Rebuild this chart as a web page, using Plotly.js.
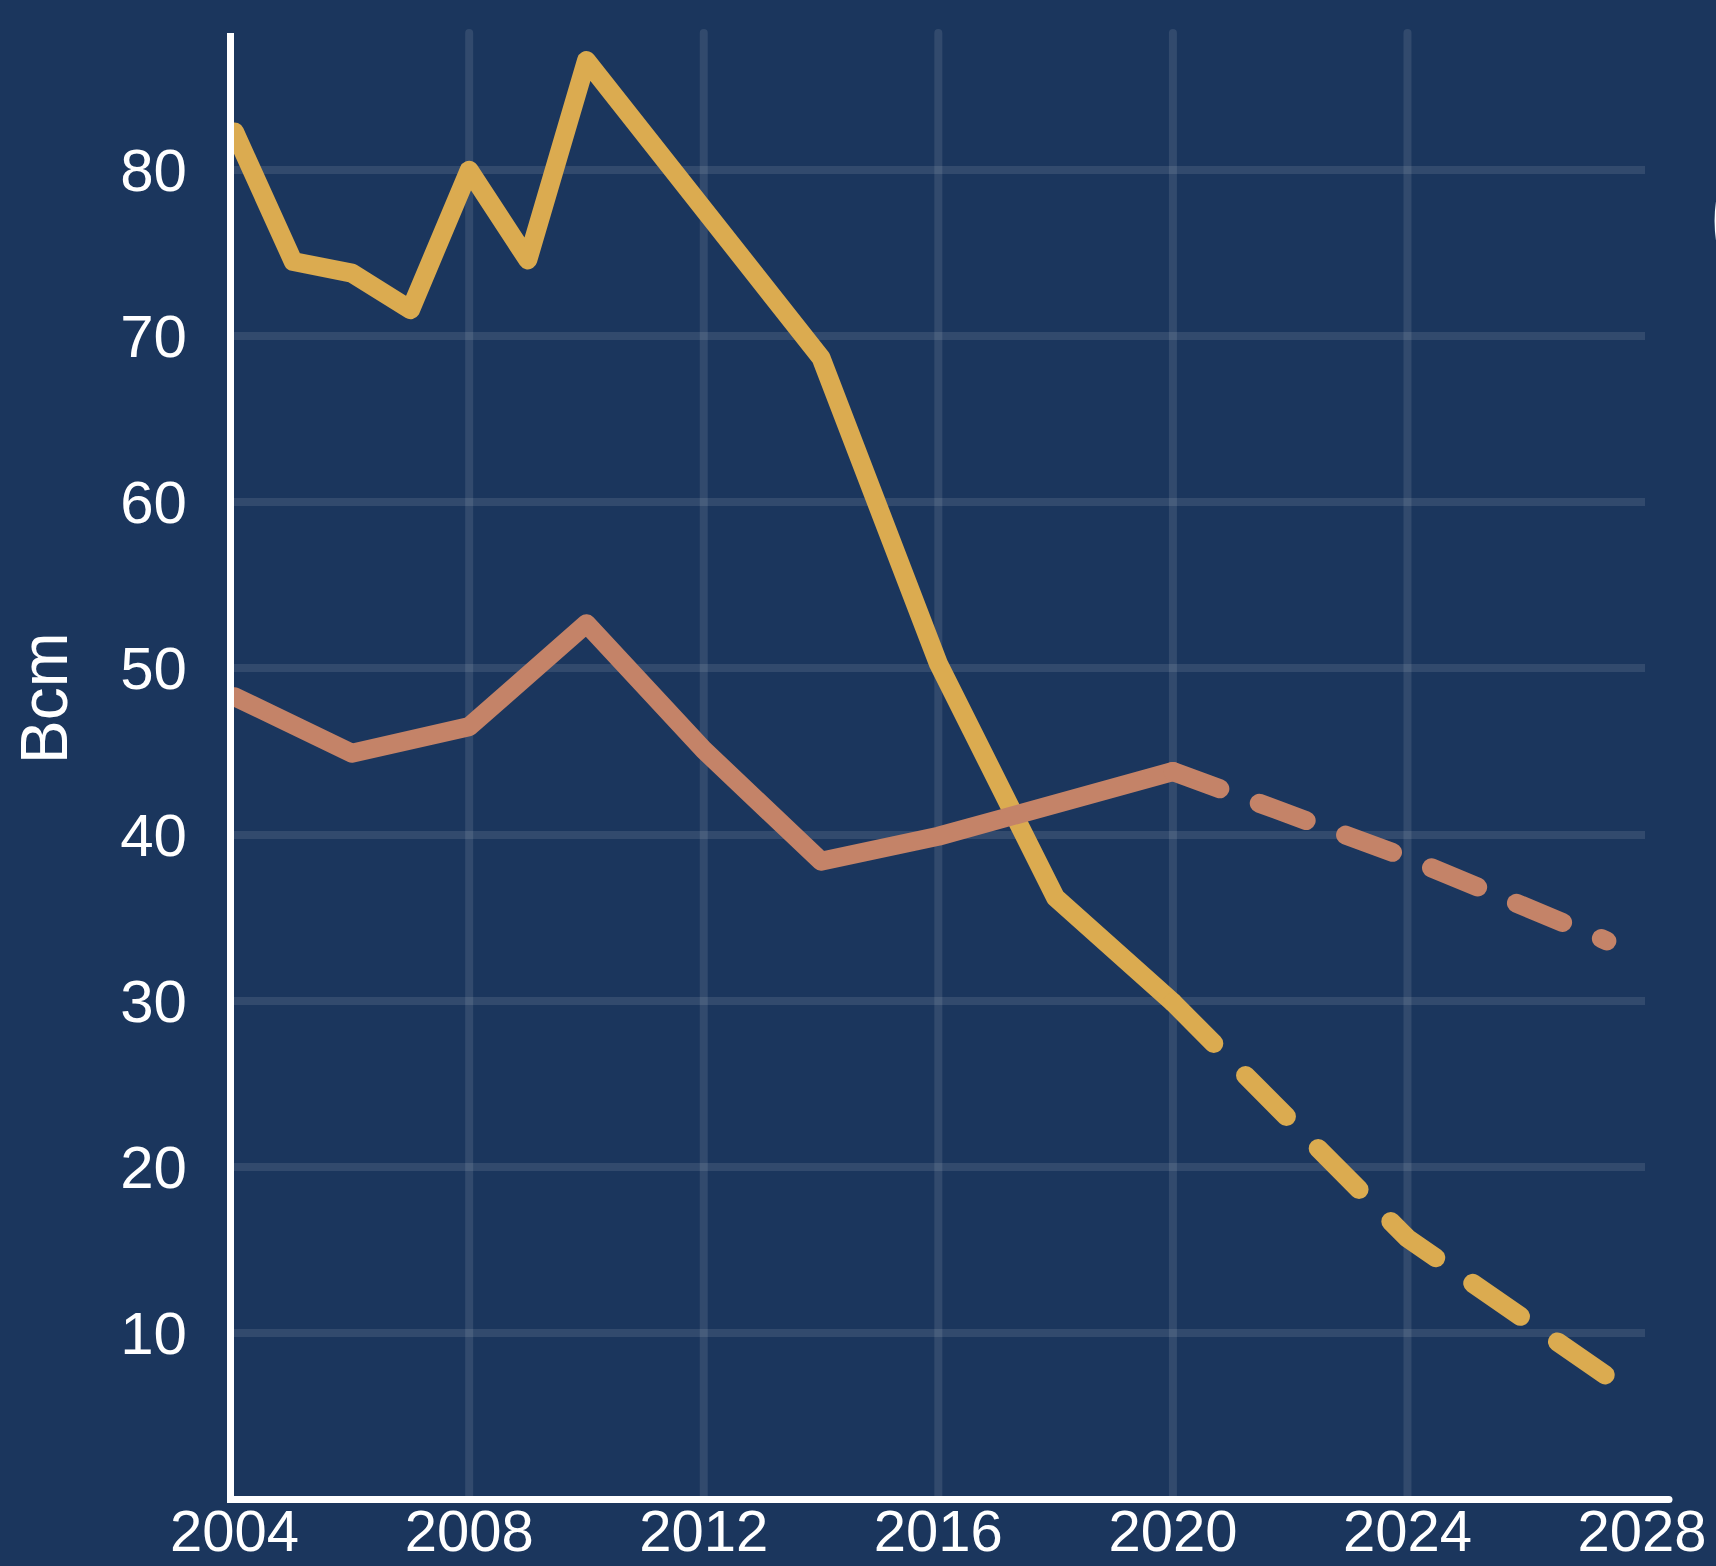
<!DOCTYPE html>
<html>
<head>
<meta charset="utf-8">
<script src="https://cdn.plot.ly/plotly-3.0.1.min.js"></script>
<style>
  html, body { margin: 0; padding: 0; background: #1b365d; }
  #chart { width: 1716px; height: 1566px; }
</style>
</head>
<body>
<div id="chart"></div>
<script>
// ---- data ----
const histYears = [2004, 2005, 2006, 2007, 2008, 2009, 2010, 2012, 2014, 2016, 2018, 2020];
const histGold = [82.3, 74.5, 73.8, 71.6, 80.0, 74.6, 86.6, 77.5, 68.7, 50.3, 36.2, 29.9];

const histYearsCopper = [2004, 2006, 2008, 2010, 2012, 2014, 2016, 2020];
const histCopper = [48.3, 44.9, 46.5, 52.7, 45.1, 38.4, 39.9, 43.8];

const forecastYears = [2020, 2024, 2027.4];
const forecastGold = [29.9, 15.7, 7.4];
const forecastCopper = [43.8, 38.6, 33.6];

const xTickYears = [2004, 2008, 2012, 2016, 2020, 2024, 2028];
const xTickText = ['2004', '2008', '2012', '2016', '2020', '2024', '2028'];
const xGridYears = [2008, 2012, 2016, 2020, 2024];
const yTickVals = [10, 20, 30, 40, 50, 60, 70, 80];
const yTitle = 'Bcm';

// ---- styles ----
const BG = '#1b365d';
const GOLD = '#dbab50';
const COPPER = '#c48368';
const GRID = 'rgba(255,255,255,0.10)';
const FONT = 'Liberation Sans, Arial, Helvetica, sans-serif';

const traces = [
  { x: histYears, y: histGold, mode: 'lines', line: { color: GOLD, width: 19 }, hoverinfo: 'skip' },
  { x: forecastYears, y: forecastGold, mode: 'lines', line: { color: GOLD, width: 19, dash: '58px,45px' }, hoverinfo: 'skip' },
  { x: histYearsCopper, y: histCopper, mode: 'lines', line: { color: COPPER, width: 19 }, hoverinfo: 'skip' },
  { x: forecastYears, y: forecastCopper, mode: 'lines', line: { color: COPPER, width: 19, dash: '50px,42px' }, hoverinfo: 'skip' }
];

const shapes = xGridYears.map(yr => ({
  type: 'line', xref: 'x', yref: 'paper', x0: yr, x1: yr, y0: 0, y1: 1,
  line: { color: GRID, width: 8 }, layer: 'below'
}));
// extension of the bottom axis line beyond the last tick
shapes.push({ type: 'line', xref: 'paper', yref: 'paper', x0: 0.99, x1: 1.017, y0: -0.0024, y1: -0.0024,
  line: { color: '#ffffff', width: 7 }, layer: 'above' });
// clipped white element at the right edge
shapes.push({ type: 'circle', xref: 'paper', yref: 'paper', x0: 1.0493, x1: 1.2435, y0: 0.7779, y1: 0.9651,
  fillcolor: '#ffffff', line: { width: 0 }, layer: 'above' });

const layout = {
  width: 1716, height: 1566,
  paper_bgcolor: BG, plot_bgcolor: BG,
  margin: { l: 234, r: 71, t: 33, b: 70, pad: 0 },
  showlegend: false,
  font: { family: FONT, color: '#ffffff' },
  xaxis: {
    range: [2003.99, 2028.05],
    tickmode: 'array', tickvals: xTickYears, ticktext: xTickText,
    showgrid: false, zeroline: false,
    showline: true, linecolor: '#ffffff', linewidth: 7,
    ticks: '', ticklabelstandoff: -22,
    tickfont: { family: FONT, size: 58, color: '#ffffff' },
    fixedrange: true
  },
  yaxis: {
    range: [0.18, 88.26],
    tickmode: 'array', tickvals: yTickVals,
    showgrid: true, gridcolor: GRID, gridwidth: 8,
    zeroline: false,
    showline: true, linecolor: '#ffffff', linewidth: 7,
    ticks: '', ticklabelstandoff: 28,
    tickfont: { family: FONT, size: 60, color: '#ffffff' },
    fixedrange: true
  },
  shapes: shapes,
  annotations: [{
    text: yTitle, xref: 'paper', yref: 'paper', x: -0.135, y: 0.545,
    xanchor: 'center', yanchor: 'middle', showarrow: false, textangle: -90,
    font: { family: FONT, size: 66, color: '#ffffff' }
  }]
};

Plotly.newPlot('chart', traces, layout, { staticPlot: true, displayModeBar: false }).then(() => {
  document.querySelectorAll('.scatterlayer path.js-line').forEach(p => {
    p.style.strokeLinecap = 'round';
    p.style.strokeLinejoin = 'round';
  });
  document.querySelectorAll('.shapelayer path').forEach(p => {
    p.style.strokeLinecap = 'round';
  });
});
</script>
</body>
</html>
